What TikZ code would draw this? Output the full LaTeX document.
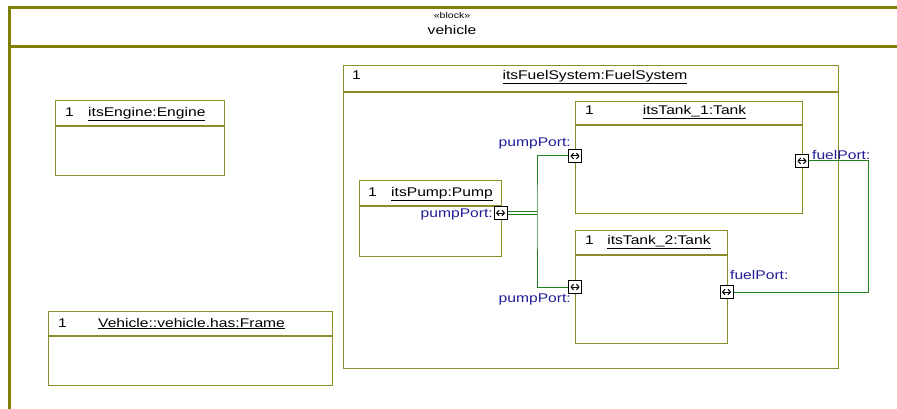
\documentclass[tikz,border=0pt]{standalone}
\usepackage{fontspec}
\setmainfont{Liberation Sans}[FakeStretch=1.24]
\usetikzlibrary{arrows.meta}
\definecolor{olv}{RGB}{128,128,0}
\definecolor{boxc}{RGB}{140,140,40}
\definecolor{lblc}{RGB}{30,30,150}
\definecolor{connc}{RGB}{30,130,30}
\begin{document}
\begin{tikzpicture}[x=1pt,y=-1pt,
  part/.style={draw=boxc, line width=1.1pt, inner sep=0, anchor=north west},
  sep/.style={draw=boxc, line width=1.1pt},
  port/.style={draw=black, fill=white, line width=0.8pt, minimum size=13pt, inner sep=0,
    path picture={\draw[line width=1pt, {Straight Barb[length=2.6pt,width=5.5pt]}-{Straight Barb[length=2.6pt,width=5.5pt]}] ([xshift=1.8pt]path picture bounding box.west) -- ([xshift=-1.8pt]path picture bounding box.east);}},
  txt/.style={inner sep=0, font=\fontsize{12.6}{14}\selectfont},
  lbl/.style={txt, text=lblc},
  conn/.style={draw=connc, line width=1pt},
  frm/.style={draw=olv, line width=3pt}]
\useasboundingbox (0,0) rectangle (897,409);

% outer block frame
\draw[frm] (9,420) -- (9,8) -- (905,8);
\draw[frm] (9,47) -- (905,47);
\node[inner sep=0, font=\fontsize{8.5}{10}\selectfont, anchor=base] (st) at (452,19) {«block»};
\node[txt, anchor=base] (veh) at (452,35) {vehicle};

% parts
\node[part, minimum width=169, minimum height=75] (eng) at (55,100) {};
\draw[sep] (55,126) -- (224,126);
\node[txt, anchor=base west] (eng1) at (65,116.5) {1};
\node[txt, anchor=base west] (engn) at (88,116.5) {\underline{itsEngine:Engine}};

\node[part, minimum width=284, minimum height=74] (frame) at (48,311) {};
\draw[sep] (48,336) -- (332,336);
\node[txt, anchor=base west] (fr1) at (58,327) {1};
\node[txt, anchor=base west] (frn) at (98,327) {\underline{Vehicle::vehicle.has:Frame}};

\node[part, minimum width=495, minimum height=303] (fs) at (343,65) {};
\draw[sep] (343,92) -- (838,92);
\node[txt, anchor=base west] (fs1) at (352,79.5) {1};
\node[txt, anchor=base] (fsn) at (595,79.5) {\underline{itsFuelSystem:FuelSystem}};

\node[part, minimum width=227, minimum height=112] (t1) at (575,101) {};
\draw[sep] (575,125) -- (802,125);
\node[txt, anchor=base west] (t11) at (585,114.5) {1};
\node[txt, anchor=base] (t1n) at (694.5,114.5) {\underline{itsTank\_1:Tank}};

\node[part, minimum width=152, minimum height=113] (t2) at (575,230) {};
\draw[sep] (575,255) -- (727,255);
\node[txt, anchor=base west] (t21) at (585,244.5) {1};
\node[txt, anchor=base] (t2n) at (659,244.5) {\underline{itsTank\_2:Tank}};

\node[part, minimum width=142, minimum height=76] (pump) at (359,180) {};
\draw[sep] (359,206) -- (501,206);
\node[txt, anchor=base west] (pu1) at (368,196.5) {1};
\node[txt, anchor=base] (pun) at (442,196.5) {\underline{itsPump:Pump}};

% connector helper points
\coordinate (jn) at (537,213);
\coordinate (fc) at (868,161);

% ports
\node[port] (pp) at (500.5,213) {};
\node[port] (t1pp) at (575,156) {};
\node[port] (t2pp) at (575,287) {};
\node[port] (t1fp) at (802,161) {};
\node[port] (t2fp) at (726.5,292) {};

% connectors
\draw[draw=connc, line width=0.9pt, double=white, double distance=2pt] (pp.east) -- (jn);
\draw[conn] (t1pp.west) -| (jn) |- (t2pp.west);
\draw[conn] (t1fp.east) -- (fc) |- (t2fp.east);

% redraw ports on top
\node[port] at (pp) {};
\node[port] at (t1pp) {};
\node[port] at (t2pp) {};
\node[port] at (t1fp) {};
\node[port] at (t2fp) {};

% port labels
\node[lbl, anchor=base east] (lpp) at (493,217.5) {pumpPort:};
\node[lbl, anchor=base east] (lt1pp) at (571,146.5) {pumpPort:};
\node[lbl, anchor=base east] (lt2pp) at (571,302.5) {pumpPort:};
\node[lbl, anchor=base west] (lt1fp) at (812,159.5) {fuelPort:};
\node[lbl, anchor=base west] (lt2fp) at (730,279.5) {fuelPort:};
\end{tikzpicture}
\end{document}
